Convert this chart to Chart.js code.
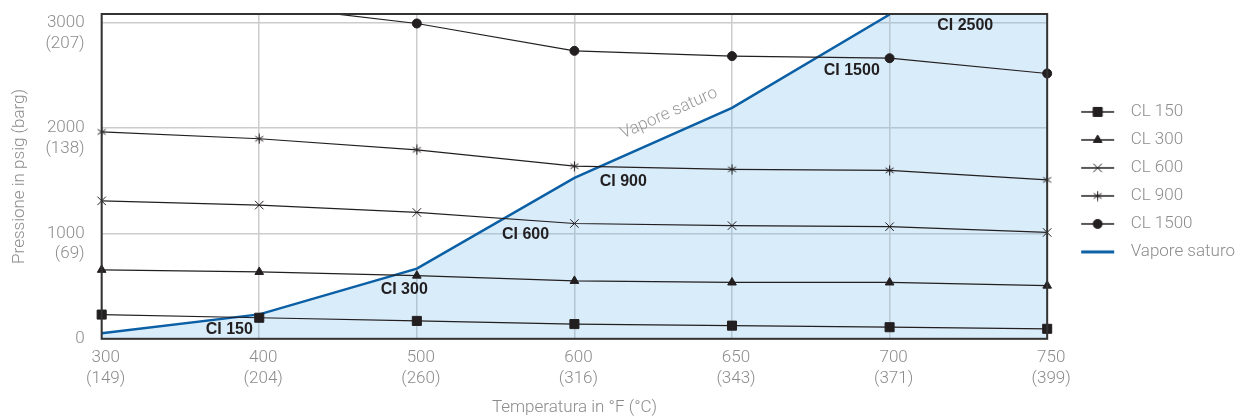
<!DOCTYPE html>
<html>
<head>
<meta charset="utf-8">
<script src="https://cdn.jsdelivr.net/npm/chart.js@4/dist/chart.umd.min.js"></script>
<style>
  html, body { margin: 0; padding: 0; background: #fff; }
</style>
</head>
<body>
<canvas id="grafico" width="1243" height="418"></canvas>
<script>
// temperature (asse x)
const temperatureF = ['300', '400', '500', '600', '650', '700', '750'];
const temperatureC = ['(149)', '(204)', '(260)', '(316)', '(343)', '(371)', '(399)'];
// pressione (asse y)
const pressioniPsig = [0, 1000, 2000, 3000];
const pressioniBarg = ['', '(69)', '(138)', '(207)'];
// classi di pressione, psig
const nomiClassi = ['CL 150', 'CL 300', 'CL 600', 'CL 900', 'CL 1500'];
const cl150 = [230, 200, 170, 140, 125, 110, 95];
const cl300 = [655, 635, 600, 550, 535, 535, 505];
const cl600 = [1310, 1270, 1200, 1095, 1075, 1065, 1010];
const cl900 = [1965, 1900, 1795, 1640, 1610, 1600, 1510];
const cl1500 = [3280, 3170, 2995, 2735, 2685, 2665, 2520];
// curva del vapore saturo (l'ultimo punto chiude la zona colorata in alto)
const vaporeSaturo = [52, 232, 666, 1528, 2193, 3080, 3085];

const NERO = '#231f20';
const GRIGIO = '#8c8c8c';
const BLU = '#0b5fa5';

Chart.defaults.font.family = 'Roboto';
Chart.defaults.font.weight = 300;
Chart.defaults.font.size = 17;
Chart.defaults.color = GRIGIO;

// asterisco a 6 bracci per CL 900
function asterisco() {
  const c = document.createElement('canvas');
  c.width = 11; c.height = 11;
  const ctx = c.getContext('2d');
  ctx.strokeStyle = NERO;
  ctx.lineWidth = 1;
  ctx.beginPath();
  ctx.moveTo(5.5, 0.5); ctx.lineTo(5.5, 10.5);
  ctx.moveTo(1.5, 3); ctx.lineTo(9.5, 8);
  ctx.moveTo(1.5, 8); ctx.lineTo(9.5, 3);
  ctx.stroke();
  return c;
}
const stelle = asterisco();

const stili = [
  {pointStyle: 'rect', radius: 6.4},
  {pointStyle: 'triangle', radius: 5},
  {pointStyle: 'crossRot', radius: 6},
  {pointStyle: stelle, radius: 5},
  {pointStyle: 'circle', radius: 4.5}
];

// icone della legenda: linea + simbolo
function iconaLegenda(stile, blu) {
  const c = document.createElement('canvas');
  c.width = 66; c.height = 14;
  const ctx = c.getContext('2d');
  ctx.beginPath();
  ctx.moveTo(24, 7); ctx.lineTo(57, 7);
  ctx.strokeStyle = blu ? BLU : NERO;
  ctx.lineWidth = blu ? 3 : 1.3;
  ctx.stroke();
  if (!blu) {
    ctx.fillStyle = NERO;
    ctx.strokeStyle = NERO;
    ctx.lineWidth = 1;
    Chart.helpers.drawPoint(ctx, {pointStyle: stile.pointStyle, radius: stile.radius, borderWidth: 1, rotation: 0}, 40.5, 7);
  }
  return c;
}

const serie = [cl150, cl300, cl600, cl900, cl1500];
const datasets = serie.map(function (dati, i) {
  return {
    label: nomiClassi[i],
    data: dati,
    borderColor: NERO,
    backgroundColor: NERO,
    borderWidth: 1.2,
    pointStyle: stili[i].pointStyle,
    pointRadius: stili[i].radius,
    pointBorderWidth: 1,
    pointHoverRadius: stili[i].radius,
    fill: false,
    tension: 0
  };
});
datasets.push({
  label: 'Vapore saturo',
  data: vaporeSaturo,
  borderColor: BLU,
  backgroundColor: 'rgba(100, 180, 235, 0.25)',
  borderWidth: 2.5,
  pointRadius: 0,
  fill: 'origin',
  tension: 0,
  segment: {
    borderColor: function (ctx) { return ctx.p1DataIndex === vaporeSaturo.length - 1 ? 'rgba(0,0,0,0)' : undefined; }
  }
});

const iconeLegenda = stili.map(function (s) { return iconaLegenda(s, false); });
iconeLegenda.push(iconaLegenda(null, true));

// scritte dentro al grafico (posizione in indice categoria / psig)
const scritte = [
  {testo: 'CI 150', i: 0.81, p: 85},
  {testo: 'CI 300', i: 1.92, p: 465},
  {testo: 'CI 600', i: 2.69, p: 991},
  {testo: 'CI 900', i: 3.31, p: 1490},
  {testo: 'CI 1500', i: 4.76, p: 2550},
  {testo: 'CI 2500', i: 5.48, p: 2978}
];
const scrittaVapore = {testo: 'Vapore saturo', i: 3.6, p: 2140, da: 3, a: 4};

const cornice = {
  id: 'cornice',
  afterDatasetsDraw(chart) {
    const {ctx, chartArea, scales} = chart;
    ctx.save();
    ctx.strokeStyle = '#333';
    ctx.lineWidth = 2;
    ctx.strokeRect(chartArea.left, chartArea.top, chartArea.right - chartArea.left, chartArea.bottom - chartArea.top);

    ctx.fillStyle = NERO;
    ctx.font = 'bold 16px "Liberation Sans", Arial, sans-serif';
    ctx.textAlign = 'center';
    ctx.textBaseline = 'middle';
    scritte.forEach(function (s) {
      ctx.fillText(s.testo, scales.x.getPixelForValue(s.i), scales.y.getPixelForValue(s.p));
    });

    // testo inclinato lungo la curva del vapore
    const x1 = scales.x.getPixelForValue(scrittaVapore.da), y1 = scales.y.getPixelForValue(vaporeSaturo[scrittaVapore.da]);
    const x2 = scales.x.getPixelForValue(scrittaVapore.a), y2 = scales.y.getPixelForValue(vaporeSaturo[scrittaVapore.a]);
    ctx.translate(scales.x.getPixelForValue(scrittaVapore.i), scales.y.getPixelForValue(scrittaVapore.p));
    ctx.rotate(Math.atan2(y2 - y1, x2 - x1));
    ctx.fillStyle = '#999';
    ctx.font = '300 17px Roboto';
    ctx.fillText(scrittaVapore.testo, 0, 0);
    ctx.restore();
  }
};

new Chart(document.getElementById('grafico'), {
  type: 'line',
  data: {labels: temperatureF, datasets: datasets},
  options: {
    responsive: false,
    animation: false,
    devicePixelRatio: 1,
    layout: {autoPadding: false, padding: {top: 14, left: 0, right: -2, bottom: 0}},
    plugins: {
      tooltip: {enabled: false},
      legend: {
        position: 'right',
        align: 'start',
        title: {display: true, text: '', padding: {top: 58, bottom: 0}},
        labels: {
          usePointStyle: true,
          pointStyleWidth: 64,
          padding: 11,
          color: GRIGIO,
          generateLabels(chart) {
            const items = Chart.defaults.plugins.legend.labels.generateLabels(chart);
            items.forEach(function (it, i) { it.pointStyle = iconeLegenda[i]; });
            return items;
          }
        }
      }
    },
    scales: {
      x: {
        grid: {color: '#cccccc', lineWidth: 1.5, drawTicks: false},
        border: {display: false},
        afterFit: function (asse) { asse.paddingLeft = 0; asse.paddingRight = 0; },
        ticks: {
          autoSkip: false,
          maxRotation: 0,
          padding: 9,
          labelOffset: 4,
          callback: function (v, i) { return [temperatureF[i], temperatureC[i]]; }
        },
        title: {display: true, text: 'Temperatura in °F (°C)', padding: {top: 0, bottom: 0}}
      },
      y: {
        min: 0,
        max: 3085,
        grid: {color: '#cccccc', lineWidth: 1.5, drawTicks: false},
        border: {display: false},
        afterFit: function (asse) { asse.paddingTop = 0; asse.paddingBottom = 0; },
        afterBuildTicks: function (asse) { asse.ticks = pressioniPsig.map(function (v) { return {value: v}; }); },
        ticks: {
          padding: 17,
          callback: function (v) {
            const k = pressioniPsig.indexOf(v);
            return k === 0 ? '0' : ['', String(v), pressioniBarg[k]];
          }
        },
        title: {display: true, text: 'Pressione in psig (barg)', padding: {top: 10, bottom: -2}}
      }
    }
  },
  plugins: [cornice]
});
</script>
</body>
</html>
